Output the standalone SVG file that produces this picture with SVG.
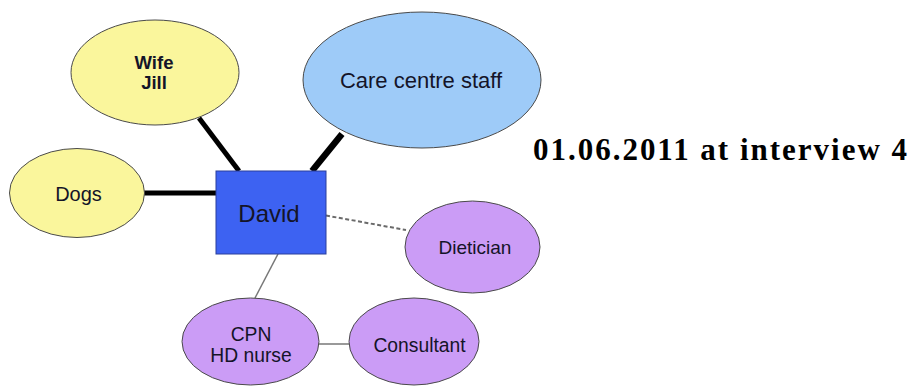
<svg xmlns="http://www.w3.org/2000/svg" width="912" height="387" viewBox="0 0 912 387">
  <style>
    .node { stroke: #4a4a4a; stroke-width: 1; }
    .family { fill: #FAF69C; }
    .staff { fill: #9ECBF8; }
    .health { fill: #CB9CF6; }
    .self { fill: #3D62F2; stroke: #2a3f9c; stroke-width: 1; }
    .lbl { font-family: "Liberation Sans", Arial, sans-serif; fill: #141428; text-anchor: middle; }
    .strong { stroke: #000; stroke-linecap: butt; fill: none; }
    .weak { stroke: #777; stroke-width: 1.5; fill: none; }
    .dashed { stroke: #6a6a6a; stroke-width: 2; stroke-dasharray: 4 2.5; fill: none; }
    .caption { font-family: "Liberation Serif", "Times New Roman", serif; font-weight: bold; font-size: 31px; fill: #000; }
  </style>

  <!-- links between people -->
  <g id="connectors">
    <line class="strong" stroke-width="5" x1="199" y1="118" x2="239" y2="171"/>
    <line class="strong" stroke-width="5" x1="144" y1="193" x2="216" y2="193"/>
    <line class="strong" stroke-width="6.5" x1="342" y1="134" x2="312" y2="171"/>
    <line class="dashed" x1="326" y1="215.5" x2="406" y2="230"/>
    <line class="weak" x1="278" y1="254" x2="255" y2="298"/>
    <line class="weak" x1="318" y1="344" x2="349" y2="344"/>
  </g>

  <g id="wife">
    <ellipse class="node family" cx="155" cy="72.5" rx="84" ry="52.5"/>
    <text class="lbl" x="154" y="68.5" font-size="18.5" font-weight="bold">Wife</text>
    <text class="lbl" x="154" y="88.5" font-size="18.5" font-weight="bold">Jill</text>
  </g>

  <g id="dogs">
    <ellipse class="node family" cx="77" cy="193" rx="67.5" ry="44.5"/>
    <text class="lbl" x="78.5" y="201" font-size="20">Dogs</text>
  </g>

  <g id="care-centre">
    <ellipse class="node staff" cx="422" cy="80" rx="119" ry="68"/>
    <text class="lbl" x="421" y="88" font-size="22">Care centre staff</text>
  </g>

  <g id="david">
    <rect class="self" x="216" y="171" width="110" height="83"/>
    <text class="lbl" x="269" y="222" font-size="24">David</text>
  </g>

  <g id="dietician">
    <ellipse class="node health" cx="472.5" cy="247" rx="67.5" ry="46"/>
    <text class="lbl" x="475" y="253.5" font-size="19">Dietician</text>
  </g>

  <g id="cpn">
    <ellipse class="node health" cx="250.5" cy="341.5" rx="68.5" ry="43.5"/>
    <text class="lbl" x="251" y="341" font-size="19.3">CPN</text>
    <text class="lbl" x="251" y="361.5" font-size="19.3">HD nurse</text>
  </g>

  <g id="consultant">
    <ellipse class="node health" cx="414" cy="341.5" rx="65" ry="43.5"/>
    <text class="lbl" x="419.5" y="351.5" font-size="19.3">Consultant</text>
  </g>

  <g id="caption">
    <text class="caption" x="533" y="159.5" textLength="374" lengthAdjust="spacing">01.06.2011 at interview 4</text>
  </g>
</svg>
